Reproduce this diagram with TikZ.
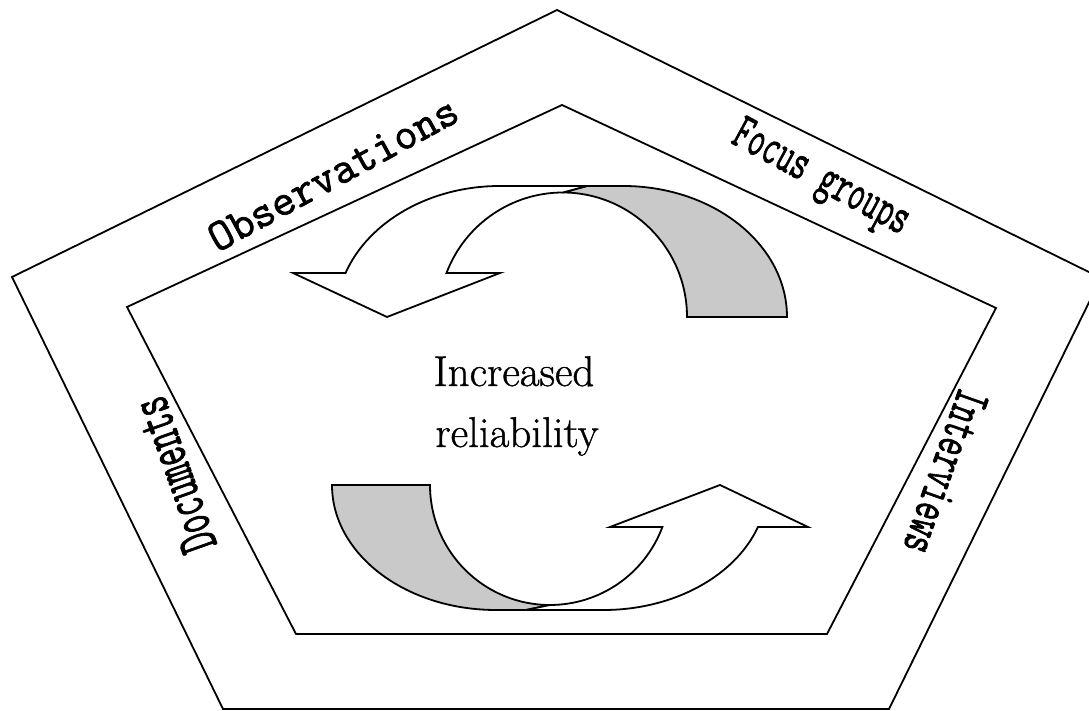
\documentclass[tikz,border=0pt]{standalone}
\usepackage{fontspec}
\newfontfamily\typew[FakeBold=1.6]{Latin Modern Mono}
\newfontfamily\bodyfont[FakeBold=0.9]{Latin Modern Roman}
\begin{document}
\begin{tikzpicture}[x=1pt,y=1pt,
  edge/.style={draw=black, line width=1.8pt, line join=miter},
  ribbon/.style={draw=black, line width=1.8pt, line join=miter, fill=white},
  twist/.style={draw=black, line width=1.8pt, line join=miter, fill=black!21},
  side/.style={font=\typew\fontsize{45}{45}\selectfont, inner sep=0pt},
  centre/.style={font=\bodyfont\fontsize{43}{50}\selectfont, inner sep=0pt, anchor=base}]
\useasboundingbox (0,0) rectangle (1089,711);

% outer and inner pentagons
\begin{scope}
  \clip (0,0) rectangle (1089,711);
  \draw[edge] (557,701) -- (1101,433) -- (889,2) -- (223,2) -- (12,434) -- cycle;
\end{scope}
\draw[edge] (562,606) -- (996,403) -- (827,77) -- (296,77) -- (127,404) -- cycle;

% upper curved arrow: twisted back face, then the arrow body
\draw[twist] (563,518.5) -- (587,525) -- (623,525)
  arc[start angle=90, end angle=0, x radius=164, y radius=131]
  -- (687,394)
  arc[start angle=0, end angle=90, radius=124.5] -- cycle;
\draw[ribbon] (587,525) -- (500,525)
  arc[start angle=90, end angle=160.4, x radius=164, y radius=131]
  -- (293,438) -- (387,394) -- (500,438) -- (446.5,438)
  arc[start angle=159.3, end angle=90, radius=124.5]
  -- cycle;

% lower curved arrow
\draw[twist] (332,226) -- (430,226)
  arc[start angle=180, end angle=270, radius=120]
  -- (526,101) -- (496,101)
  arc[start angle=270, end angle=180, x radius=164, y radius=125] -- cycle;
\draw[ribbon] (526,101) -- (603.5,101)
  arc[start angle=270, end angle=340.4, x radius=164, y radius=125]
  -- (808,184) -- (720,226) -- (610,184) -- (662.4,184)
  arc[start angle=339.5, end angle=270, radius=120]
  -- cycle;

% labels
\node[side, rotate=28.6] (obs) at (333,537) {Observations};
\node[side, rotate=-28.4] (foc) at (820,531) {\scalebox{0.70}[1.15]{Focus groups}};
\node[side, rotate=109.5] (doc) at (174,236) {\scalebox{0.77}[1.3]{Documents}};
\node[side, rotate=-109.5] (int) at (946,239) {\scalebox{0.74}[1.15]{Interviews}};
\node[centre] (inc) at (514,325) {Increased};
\node[centre] (rel) at (517,264) {reliability};
\end{tikzpicture}
\end{document}
